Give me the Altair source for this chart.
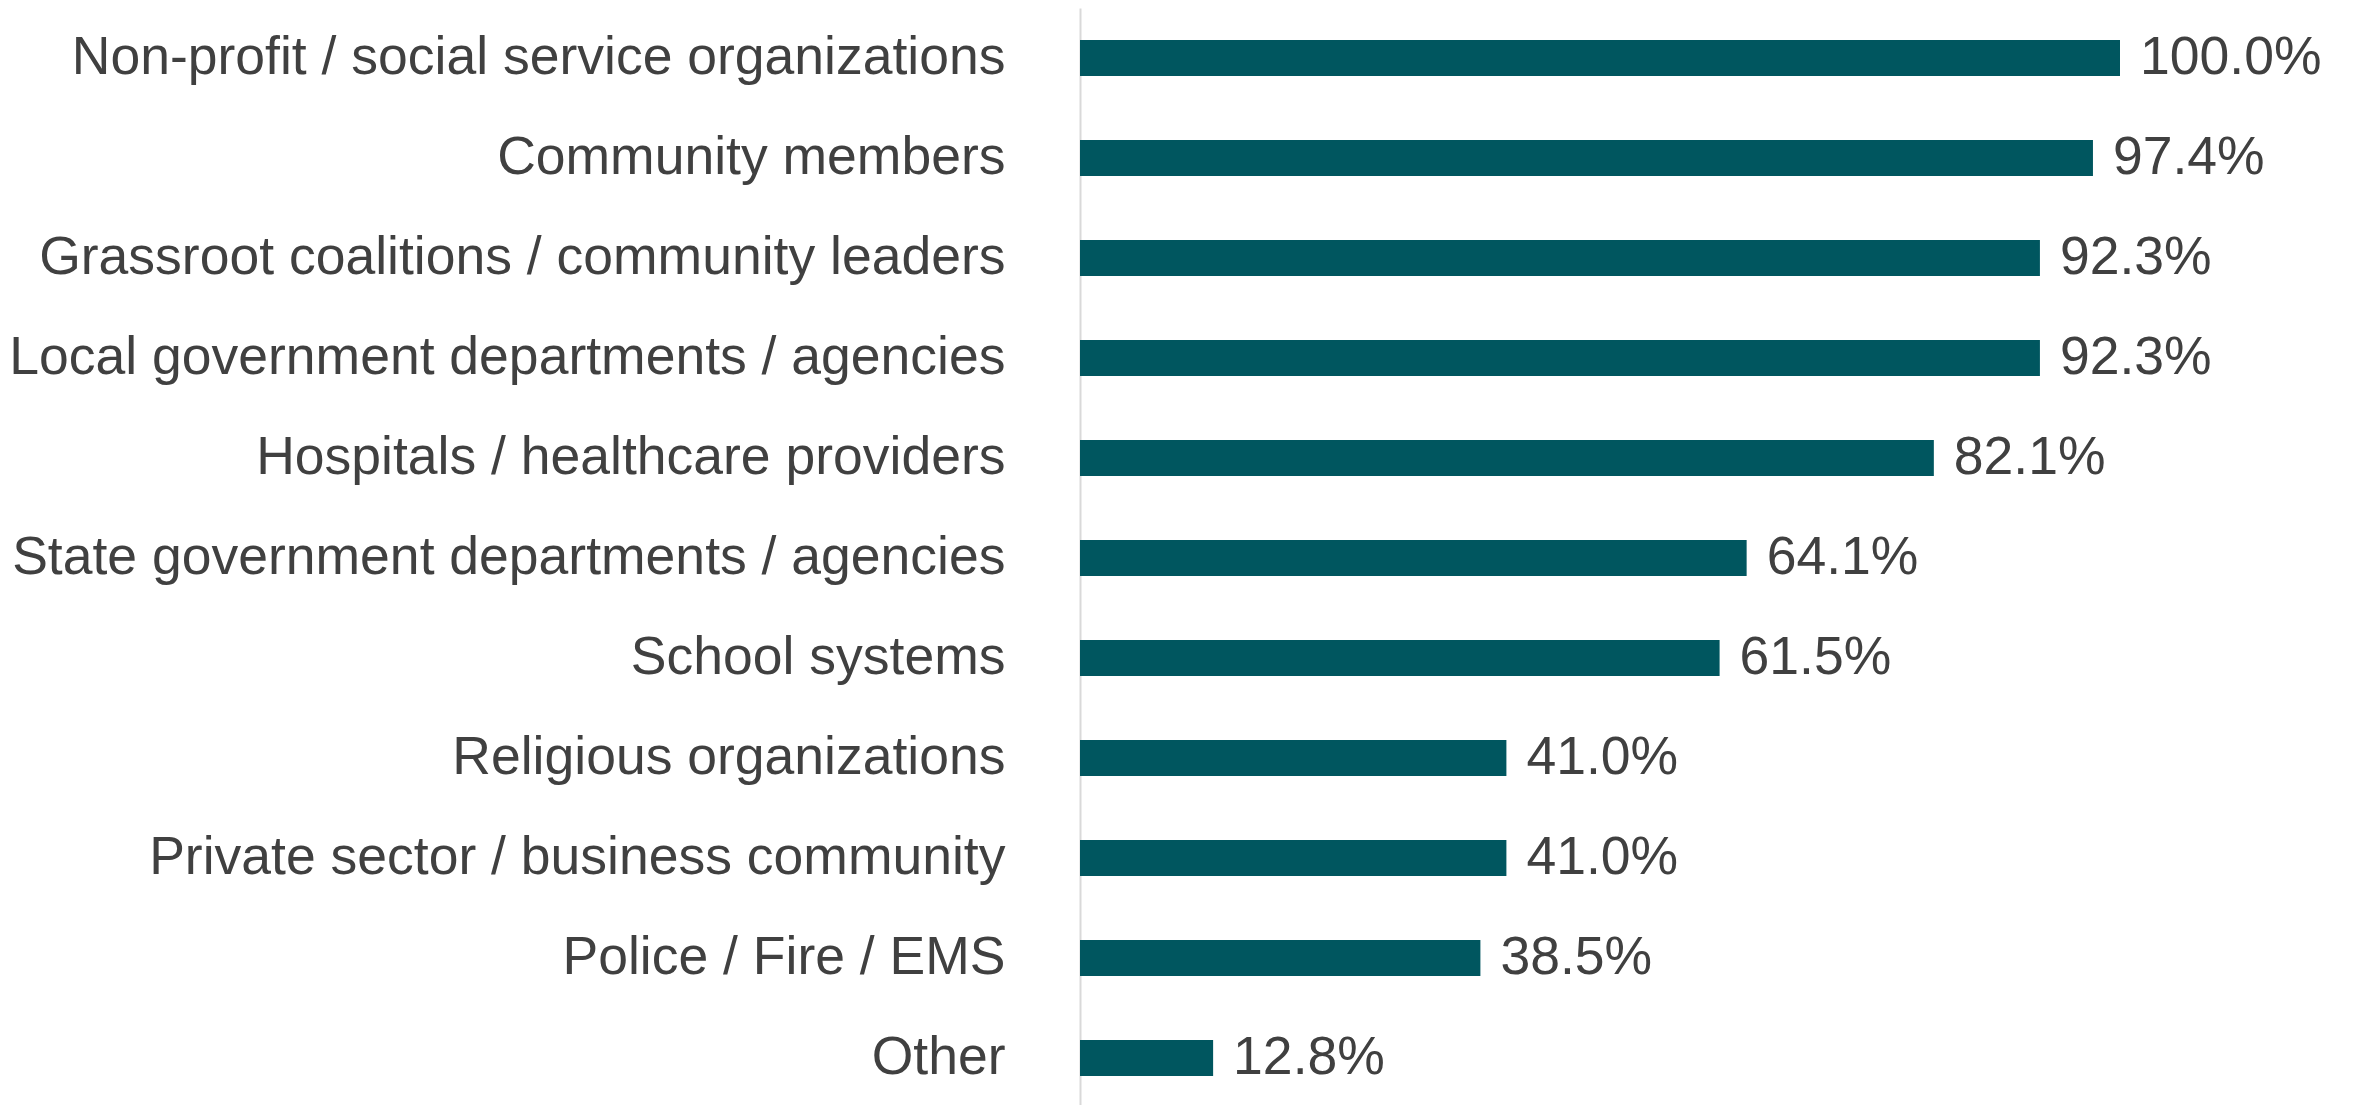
import altair as alt
import pandas as pd

categories = [
    "Non-profit / social service organizations",
    "Community members",
    "Grassroot coalitions / community leaders",
    "Local government departments / agencies",
    "Hospitals / healthcare providers",
    "State government departments / agencies",
    "School systems",
    "Religious organizations",
    "Private sector / business community",
    "Police / Fire / EMS",
    "Other",
]
values = [100.0, 97.4, 92.3, 92.3, 82.1, 64.1, 61.5, 41.0, 41.0, 38.5, 12.8]

df = pd.DataFrame({"category": categories, "value": [v / 100 for v in values]})

FONT = "Liberation Sans"
TEXT = "#404040"
BAR = "#00565F"

y_enc = alt.Y(
    "category:N",
    sort=categories,
    title=None,
    scale=alt.Scale(paddingInner=0.64, paddingOuter=0.32),
    axis=alt.Axis(
        labelFont=FONT,
        labelFontSize=53.5,
        labelColor=TEXT,
        labelPadding=75,
        labelLimit=2000,
        ticks=False,
        domainColor="#D9D9D9",
        domainWidth=2,
        grid=False,
    ),
)
x_enc = alt.X("value:Q", title=None, scale=alt.Scale(domain=[0, 1]), axis=None)

bars = alt.Chart(df).mark_bar(color=BAR).encode(y=y_enc, x=x_enc)
labels = alt.Chart(df).mark_text(
    align="left", baseline="middle", dx=20, font=FONT, fontSize=53.5, color=TEXT
).encode(y=alt.Y("category:N", sort=categories), x="value:Q", text=alt.Text("value:Q", format=".1%"))

chart = (
    alt.layer(bars, labels)
    .properties(
        width=1040,
        height=1100,
        background="white",
        autosize=alt.AutoSizeParams(type="none"),
        padding={"left": 1072, "right": 225, "top": 0, "bottom": 0},
    )
    .configure_view(strokeWidth=0, stroke="transparent")
)

chart.save("out.html", embed_options={"renderer": "svg", "actions": False})
